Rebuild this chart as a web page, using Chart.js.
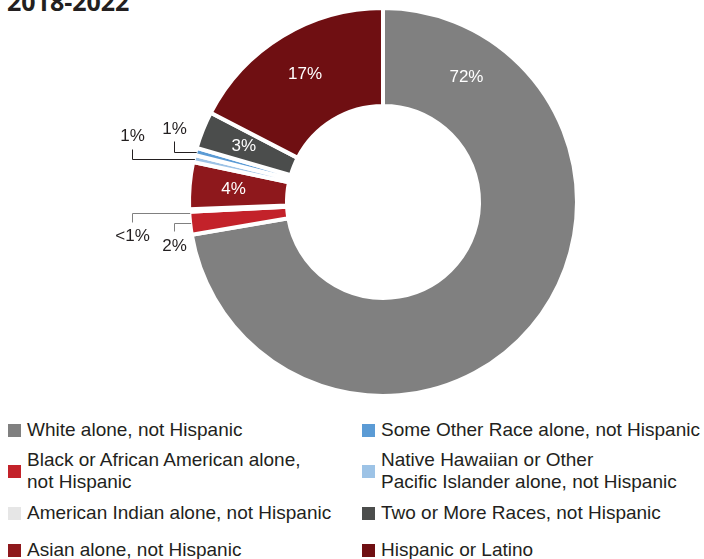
<!DOCTYPE html>
<html>
<head>
<meta charset="utf-8">
<script src="https://cdn.jsdelivr.net/npm/chart.js@4"></script>
<style>
  body { margin: 0; background: #fff; }
  #wrap { position: relative; width: 704px; height: 559px; overflow: hidden; font-family: "Liberation Sans", Arial, sans-serif; color: #231f20; }
  #title { position: absolute; left: 7px; top: -11px; font: bold 25px "Open Sans", sans-serif; line-height: 25px; color: #231f20; }
  #chart { position: absolute; left: 0; top: 0; }
  .item { position: absolute; display: flex; align-items: center; font-size: 19px; line-height: 22px; }
  .box { width: 13px; height: 13px; margin-right: 6px; flex: none; }
</style>
</head>
<body>
<div id="wrap">
  <div id="title">2018-2022</div>
  <canvas id="chart" width="704" height="410"></canvas>
  <div id="legend"></div>
</div>
<script>
// categories in the order they go round the ring (clockwise from the top)
const categories = [
  "White alone, not Hispanic",
  "Black or African American alone,\nnot Hispanic",
  "American Indian alone, not Hispanic",
  "Asian alone, not Hispanic",
  "Native Hawaiian or Other\nPacific Islander alone, not Hispanic",
  "Some Other Race alone, not Hispanic",
  "Two or More Races, not Hispanic",
  "Hispanic or Latino"
];
const shares = [72.3, 1.9, 0.2, 3.9, 0.6, 0.6, 3.1, 17.4];
const shareLabels = ["72%", "2%", "<1%", "4%", "1%", "1%", "3%", "17%"];
const colors = ["#808080", "#c3222a", "#e6e6e6", "#8e181c", "#9dc3e6", "#5b9bd5", "#4b4d4c", "#6f0f12"];

// legend: two columns, index into categories
const legendOrder = [0, 1, 2, 3, 5, 4, 6, 7];

// where each percentage goes: inside the ring, or outside with a leader line
const labelPlace = [
  { type: "in", along: 0.13 },
  { type: "out", elbow: 209, rise: 8, gap: 15, line: "#808080" },
  { type: "out", elbow: 251, rise: 9, gap: 14, line: "#808080", lift: 3 },
  { type: "in", along: 0.5 },
  { type: "out", elbow: 251, rise: -10, gap: -13, line: "#231f20" },
  { type: "out", elbow: 209, rise: -11, gap: -12, line: "#231f20" },
  { type: "in", along: 0.5 },
  { type: "in", along: 0.5 }
];

const ringLabels = {
  id: "ringLabels",
  afterDatasetsDraw(chart) {
    const ctx = chart.ctx;
    const arcs = chart.getDatasetMeta(0).data;
    ctx.save();
    ctx.font = "17px 'Liberation Sans', Arial, sans-serif";
    ctx.textAlign = "center";
    ctx.textBaseline = "middle";
    arcs.forEach(function (arc, i) {
      const p = arc.getProps(["x", "y", "startAngle", "endAngle", "innerRadius", "outerRadius"], true);
      const place = labelPlace[i];
      if (place.type === "in") {
        const a = p.startAngle + (p.endAngle - p.startAngle) * place.along;
        const r = p.innerRadius + (p.outerRadius - p.innerRadius) * 0.55;
        ctx.fillStyle = "#ffffff";
        ctx.fillText(shareLabels[i], p.x + Math.cos(a) * r, p.y + Math.sin(a) * r);
      } else {
        const a = (p.startAngle + p.endAngle) / 2;
        const ex = p.x + Math.cos(a) * (p.outerRadius - 1);
        const ey = p.y + Math.sin(a) * (p.outerRadius - 1);
        const kx = Math.round(p.x - place.elbow) + 0.5;
        const ky = Math.round(ey + (place.lift || 0)) + 0.5;
        ctx.strokeStyle = place.line;
        ctx.lineWidth = 1;
        ctx.beginPath();
        ctx.moveTo(ex, ky);
        ctx.lineTo(kx, ky);
        ctx.lineTo(kx, ky + place.rise);
        ctx.stroke();
        ctx.fillStyle = "#231f20";
        ctx.fillText(shareLabels[i], kx, ky + place.rise + place.gap);
      }
    });
    ctx.restore();
  }
};

new Chart(document.getElementById("chart"), {
  type: "doughnut",
  data: {
    labels: categories.map(function (c) { return c.replace("\n", " "); }),
    datasets: [{
      data: shares,
      backgroundColor: colors,
      borderColor: "#ffffff",
      borderWidth: 4
    }]
  },
  options: {
    responsive: false,
    animation: false,
    devicePixelRatio: 1,
    cutout: "49.5%",
    layout: { padding: { left: 187, right: 125, top: 6, bottom: 12 } },
    plugins: {
      legend: { display: false },
      tooltip: { enabled: false }
    }
  },
  plugins: [ringLabels]
});

// legend built from the same arrays
const legend = document.getElementById("legend");
const colX = [8, 362];
const rowMid = [430, 471, 513, 550];
legendOrder.forEach(function (idx, n) {
  const col = Math.floor(n / 4);
  const row = n % 4;
  const item = document.createElement("div");
  item.className = "item";
  item.style.left = colX[col] + "px";
  const lines = categories[idx].split("\n");
  item.style.top = (rowMid[row] - lines.length * 11) + "px";
  const box = document.createElement("span");
  box.className = "box";
  box.style.background = colors[idx];
  const text = document.createElement("span");
  text.innerHTML = lines.join("<br>");
  item.appendChild(box);
  item.appendChild(text);
  legend.appendChild(item);
});
</script>
</body>
</html>
